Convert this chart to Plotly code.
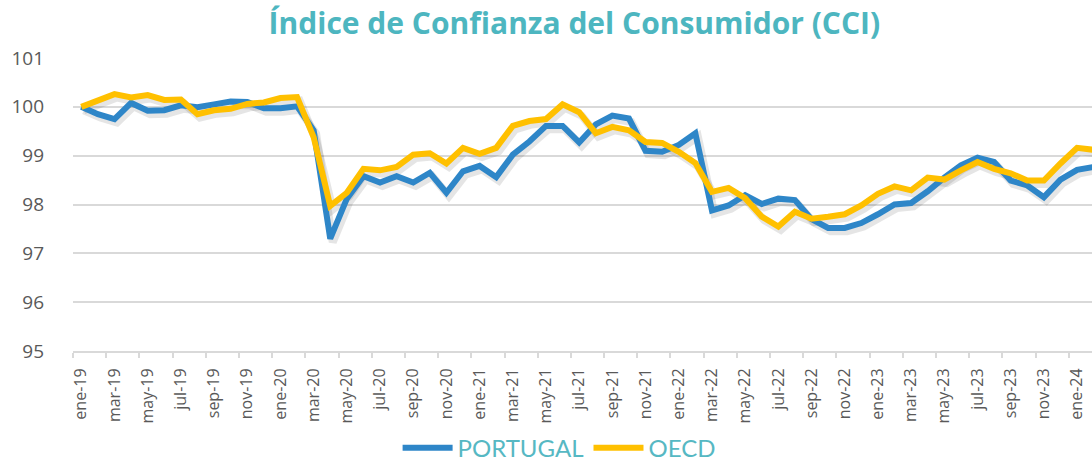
import plotly.graph_objects as go

months_es = ["ene", "feb", "mar", "abr", "may", "jun", "jul", "ago", "sep", "oct", "nov", "dic"]

portugal = [100.00, 99.85, 99.75, 100.08, 99.92, 99.93, 100.03, 99.99, 100.05, 100.11, 100.10, 99.97,
            99.97, 100.01, 99.52, 97.30, 98.12, 98.58, 98.45, 98.58, 98.45, 98.65, 98.24, 98.68,
            98.79, 98.56, 99.02, 99.29, 99.61, 99.61, 99.27, 99.64, 99.82, 99.76, 99.10, 99.08,
            99.22, 99.46, 97.88, 97.98, 98.19, 98.01, 98.12, 98.09, 97.70, 97.52, 97.52, 97.62,
            97.80, 98.00, 98.03, 98.27, 98.55, 98.80, 98.96, 98.87, 98.49, 98.39, 98.15, 98.51,
            98.71, 98.77]

oecd = [100.00, 100.14, 100.26, 100.19, 100.24, 100.14, 100.15, 99.85, 99.93, 99.96, 100.06, 100.09,
        100.18, 100.20, 99.38, 97.97, 98.24, 98.73, 98.70, 98.77, 99.02, 99.05, 98.84, 99.16,
        99.04, 99.16, 99.61, 99.71, 99.75, 100.05, 99.89, 99.46, 99.59, 99.52, 99.28, 99.26,
        99.08, 98.85, 98.26, 98.34, 98.13, 97.75, 97.55, 97.85, 97.71, 97.75, 97.80, 97.98,
        98.22, 98.37, 98.29, 98.55, 98.51, 98.70, 98.87, 98.73, 98.64, 98.49, 98.49, 98.84,
        99.16, 99.12]

n = len(portugal)
idx = list(range(n))
labels = [f"{months_es[i % 12]}-{19 + i // 12}" for i in idx]
tick_idx = [i for i in idx if i % 2 == 0 and i <= 60]
tick_text = [labels[i] for i in tick_idx]
boundaries = [i - 0.5 for i in range(0, n + 1, 2)]

BLUE = "#2E86C8"
YELLOW = "#FFC000"
TEAL = "#56B8C3"
GREY_TXT = "#595959"
GRID = "#D9D9D9"

fig = go.Figure()

# soft drop shadows
for ser in (portugal, oecd):
    fig.add_trace(go.Scatter(
        x=[i + 0.15 for i in idx], y=[v - 0.07 for v in ser], mode="lines",
        line=dict(color="rgba(0,0,0,0.10)", width=8), hoverinfo="skip", showlegend=False))

fig.add_trace(go.Scatter(x=idx, y=portugal, mode="lines", name="PORTUGAL",
                         line=dict(color=BLUE, width=6), customdata=labels,
                         hovertemplate="%{customdata}: %{y}<extra>PORTUGAL</extra>"))
fig.add_trace(go.Scatter(x=idx, y=oecd, mode="lines", name="OECD",
                         line=dict(color=YELLOW, width=6), customdata=labels,
                         hovertemplate="%{customdata}: %{y}<extra>OECD</extra>"))

fig.update_layout(
    width=1092, height=464,
    margin=dict(l=73, r=0, t=58, b=113, autoexpand=False),
    paper_bgcolor="white", plot_bgcolor="white",
    title=dict(text="<b>Índice de Confianza del Consumidor (CCI)</b>",
               x=0.526, xanchor="center", y=0.95, yanchor="middle",
               font=dict(family="Open Sans, Lato, sans-serif", size=30, color="#4DB6C0")),
    legend=dict(orientation="h", xref="container", x=0.512, xanchor="center",
                yref="container", y=0.034, yanchor="middle",
                font=dict(family="Lato, Open Sans, sans-serif", size=24, color=TEAL),
                itemwidth=50, tracegroupgap=0),
    showlegend=True,
)

fig.update_xaxes(
    range=[-0.5, 60.9], tickmode="array", tickvals=tick_idx, ticktext=tick_text,
    tickangle=-90, ticks="outside", ticklen=9, tickcolor="rgba(0,0,0,0)",
    tickfont=dict(family="Open Sans, sans-serif", size=16, color=GREY_TXT),
    showgrid=False, showline=True, linecolor=GRID, linewidth=2, zeroline=False,
    automargin=False,
    minor=dict(tickmode="array", tickvals=boundaries, ticks="outside", ticklen=5,
               tickcolor=GRID, tickwidth=1.5, showgrid=False),
)
fig.update_yaxes(
    range=[95, 101], dtick=1, tick0=95,
    showgrid=True, gridcolor=GRID, gridwidth=2, zeroline=False, showline=False,
    ticks="", ticklabelstandoff=28, automargin=False,
    tickfont=dict(family="Open Sans, sans-serif", size=19, color=GREY_TXT),
)

fig.write_html(
    "out.html",
    config={"displayModeBar": False},
    post_script="document.body.style.margin='0';document.body.style.overflow='hidden';",
)
